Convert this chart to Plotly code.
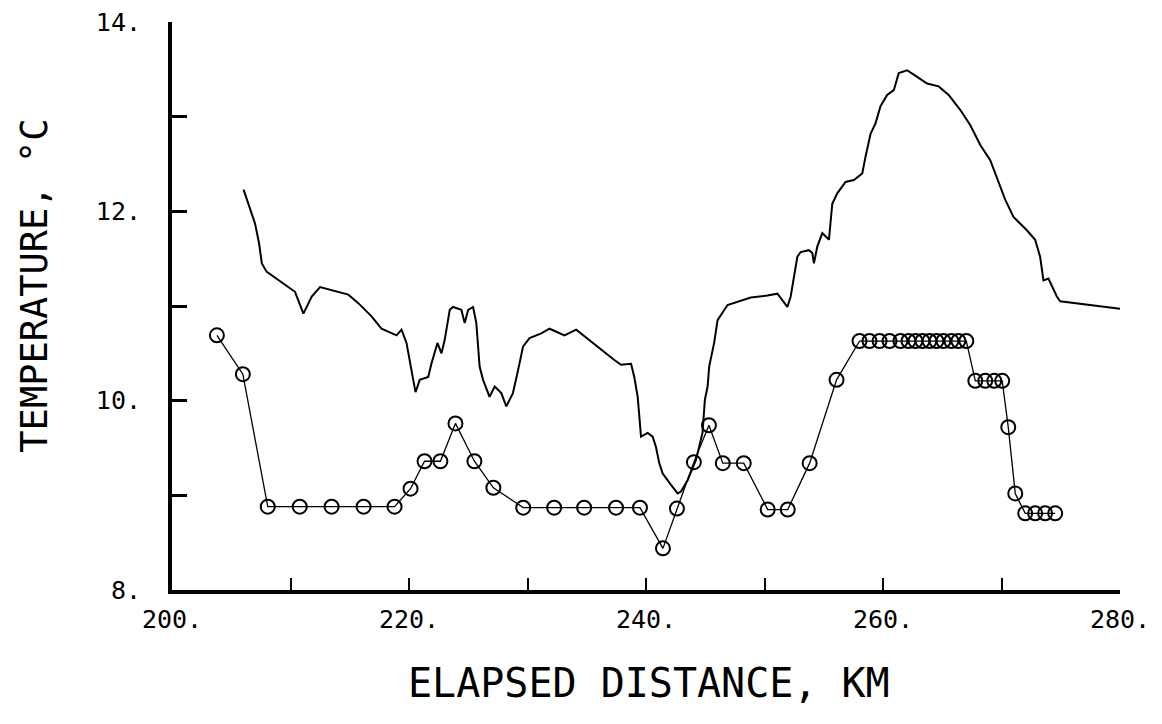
import plotly.graph_objects as go

# Continuous temperature record (upper trace)
line_km = [206.04, 206.59, 207.01, 207.35, 207.58, 208.00, 208.98, 210.38, 211.09, 211.79,
           212.49, 214.88, 215.72, 216.84, 217.68, 218.95, 219.37, 219.79, 220.21, 220.55,
           220.91, 221.62, 221.89, 222.40, 222.74, 223.01, 223.44, 223.72, 224.42, 224.70,
           224.99, 225.41, 225.68, 225.96, 226.25, 226.80, 227.23, 227.79, 228.21, 228.77,
           229.20, 229.62, 230.17, 231.16, 231.86, 233.12, 234.11, 234.80, 235.93, 237.33,
           237.89, 238.74, 239.01, 239.30, 239.58, 240.14, 240.56, 240.84, 241.12, 241.41,
           242.11, 242.67, 242.95, 243.51, 244.21, 244.77, 244.97, 245.20, 245.33, 245.75,
           246.04, 246.59, 246.88, 248.84, 250.25, 251.09, 251.51, 251.93, 252.21, 252.77,
           253.05, 253.75, 254.04, 254.17, 254.46, 254.88, 255.44, 255.72, 256.14, 256.84,
           257.54, 258.25, 258.53, 258.95, 259.37, 259.79, 260.35, 260.91, 261.33, 262.04,
           262.88, 263.72, 264.70, 265.54, 266.53, 267.37, 268.21, 269.05, 270.32, 271.01,
           272.14, 272.84, 273.26, 273.54, 273.96, 274.67, 274.95, 280.00]
line_temp = [12.23, 12.03, 11.87, 11.66, 11.45, 11.36, 11.27, 11.15, 10.92, 11.10,
             11.20, 11.12, 11.03, 10.89, 10.76, 10.69, 10.75, 10.61, 10.32, 10.09,
             10.22, 10.25, 10.39, 10.61, 10.50, 10.64, 10.96, 10.99, 10.96, 10.82,
             10.96, 10.99, 10.82, 10.36, 10.22, 10.04, 10.15, 10.08, 9.94, 10.08,
             10.32, 10.57, 10.66, 10.71, 10.76, 10.69, 10.75, 10.68, 10.57, 10.43,
             10.38, 10.39, 10.25, 10.04, 9.62, 9.66, 9.62, 9.51, 9.34, 9.23,
             9.11, 9.02, 9.04, 9.16, 9.37, 9.66, 10.01, 10.15, 10.36, 10.61,
             10.85, 10.96, 11.01, 11.09, 11.11, 11.13, 11.06, 10.99, 11.10, 11.52,
             11.57, 11.59, 11.56, 11.45, 11.63, 11.77, 11.70, 12.08, 12.19, 12.31,
             12.33, 12.40, 12.58, 12.82, 12.93, 13.11, 13.23, 13.28, 13.46, 13.49,
             13.42, 13.35, 13.32, 13.23, 13.07, 12.91, 12.70, 12.54, 12.12, 11.94,
             11.80, 11.70, 11.52, 11.27, 11.29, 11.10, 11.05, 10.97]

# Station measurements (circles)
stn_km = [203.79, 205.98, 208.08, 210.78, 213.47, 216.17, 218.78, 220.13, 221.31, 222.65,
          223.92, 225.52, 227.12, 229.64, 232.25, 234.78, 237.47, 239.49, 241.43, 242.61,
          244.04, 245.31, 246.48, 248.25, 250.27, 251.96, 253.81, 256.08,
          258.02, 258.86, 259.71, 260.55, 261.47, 262.15, 262.74, 263.33, 263.92, 264.51,
          265.10, 265.77, 266.36, 267.03,
          267.79, 268.63, 269.39, 270.06, 270.57, 271.16,
          272.00, 272.84, 273.68, 274.53]
stn_temp = [10.69, 10.28, 8.88, 8.88, 8.88, 8.88, 8.88, 9.07, 9.36, 9.36,
            9.76, 9.36, 9.08, 8.87, 8.87, 8.87, 8.87, 8.87, 8.44, 8.86,
            9.35, 9.74, 9.34, 9.34, 8.85, 8.85, 9.34, 10.22,
            10.63, 10.63, 10.63, 10.63, 10.63, 10.63, 10.63, 10.63, 10.63, 10.63,
            10.63, 10.63, 10.63, 10.63,
            10.21, 10.21, 10.21, 10.21, 9.72, 9.02,
            8.81, 8.81, 8.81, 8.81]

x_ticks = [200, 210, 220, 230, 240, 250, 260, 270, 280]
x_labels = ["200.", "", "220.", "", "240.", "", "260.", "", "280."]
y_ticks = [8, 9, 10, 11, 12, 13, 14]
y_labels = ["8.", "", "10.", "", "12.", "", "14."]

FONT = "DejaVu Sans Mono"

fig = go.Figure()
fig.add_trace(go.Scatter(x=line_km, y=line_temp, mode="lines",
                         line=dict(color="black", width=2), showlegend=False))
fig.add_trace(go.Scatter(x=stn_km, y=stn_temp, mode="lines+markers",
                         line=dict(color="black", width=1.3),
                         marker=dict(symbol="circle-open", size=14, color="black",
                                     line=dict(width=2, color="black")),
                         showlegend=False))

fig.update_layout(
    width=1154, height=716,
    margin=dict(l=164, r=42, t=14, b=134),
    paper_bgcolor="white", plot_bgcolor="white",
    font=dict(family=FONT, color="black"),
    xaxis=dict(range=[200, 280], tickvals=x_ticks, ticktext=x_labels,
               showgrid=False, zeroline=False, showline=True, linecolor="black",
               linewidth=4, ticks="inside", ticklen=12, tickwidth=2, tickcolor="black",
               tickfont=dict(family=FONT, size=25), ticklabelstandoff=4,
               ticklabeloverflow="allow", automargin=False),
    yaxis=dict(range=[8, 14], tickvals=y_ticks, ticktext=y_labels,
               showgrid=False, zeroline=False, showline=True, linecolor="black",
               linewidth=4, ticks="inside", ticklen=15, tickwidth=3, tickcolor="black",
               tickfont=dict(family=FONT, size=25), ticklabelstandoff=22,
               ticklabeloverflow="allow", automargin=False),
    annotations=[
        dict(text="ELAPSED DISTANCE, KM", xref="paper", yref="paper",
             x=0.503, y=-0.163, xanchor="center", yanchor="middle", showarrow=False,
             font=dict(family=FONT, size=40, color="black")),
        dict(text="TEMPERATURE, °C", xref="paper", yref="paper",
             x=-0.145, y=0.535, xanchor="center", yanchor="middle", showarrow=False,
             textangle=-90, font=dict(family=FONT, size=37, color="black")),
    ],
)

fig.write_html("out.html")
